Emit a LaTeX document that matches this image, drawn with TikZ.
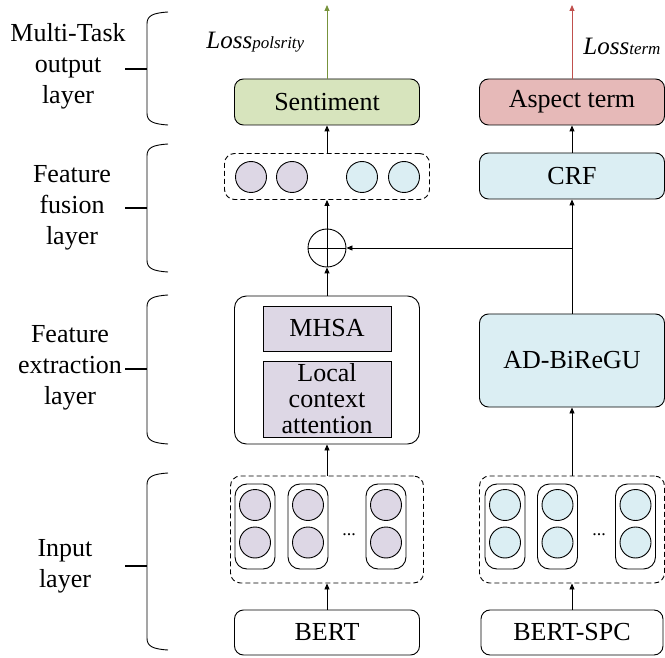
\documentclass[tikz,border=0pt]{standalone}
\usepackage{fontspec}
\setmainfont{Liberation Serif}
\usetikzlibrary{arrows.meta}
\definecolor{sgreen}{HTML}{D7E4BD}
\definecolor{sred}{HTML}{E6B9B8}
\definecolor{sblue}{HTML}{DBEEF3}
\definecolor{spurple}{HTML}{DDD7E5}
\definecolor{agreen}{HTML}{77933C}
\definecolor{ared}{HTML}{C0504D}
\newcommand\mybrace[3]{%
  \draw[line width=0.9pt] (168,#1) .. controls (152,#1+1) and (147,#1+4) .. (147,#1+12) -- (147,#2-12) .. controls (147,#2-4) and (152,#2-1) .. (168,#2);
  \draw[line width=1.1pt] (125,#3) -- (147,#3);}
\begin{document}
\begin{tikzpicture}[x=1pt,y=-1pt,
  font=\fontsize{26}{29}\selectfont,
  every path/.style={line width=0.9pt},
  box/.style={draw, rounded corners=9pt, minimum width=185pt, minimum height=46pt, inner sep=0pt, align=center},
  dbox/.style={draw, dash pattern=on 5pt off 3pt, rounded corners=10pt, inner sep=0pt},
  sq/.style={draw, fill=spurple, minimum width=128pt, inner sep=0pt, align=center},
  pill/.style={draw, rounded corners=12pt, minimum width=40pt, minimum height=85pt, inner sep=0pt},
  dot/.style={draw, circle, minimum size=31pt, inner sep=0pt},
  arr/.style={-{Triangle[length=6pt,width=5pt]}},
  lbl/.style={align=center, inner sep=0pt, font=\fontsize{26}{31}\selectfont}
]
\useasboundingbox (0,0) rectangle (665,658);

% labels and brackets
\node[lbl] (l1) at (68,66) {Multi-Task\\output\\layer};
\node[lbl] (l2) at (72,208) {Feature\\fusion\\layer};
\node[lbl] (l3) at (70,368) {Feature\\extraction\\layer};
\node[lbl] (l4) at (65,566) {Input\\layer};
\mybrace{12}{125}{69}
\mybrace{144}{272}{208}
\mybrace{295}{444}{369}
\mybrace{473}{650}{566}

% output layer
\node[box, fill=sgreen] (sent) at (327,102) {Sentiment};
\node[box, fill=sred] (asp) at (572,102) {Aspect term};
\coordinate (lp) at (327,5);
\coordinate (lt) at (572,5);
\node[anchor=base west, inner sep=0pt] (lossp) at (206,49) {\fontsize{25}{25}\selectfont\textit{Loss}{\fontsize{17}{17}\selectfont\textit{polsrity}}};
\node[anchor=base west, inner sep=0pt] (losst) at (583,55) {\fontsize{25}{25}\selectfont\textit{Loss}{\fontsize{17}{17}\selectfont\textit{term}}};

% fusion layer
\node[dbox, minimum width=205pt, minimum height=46pt] (fus) at (327,176.5) {};
\node[dot, fill=spurple] (f1) at (251,177) {};
\node[dot, fill=spurple] (f2) at (292,177) {};
\node[dot, fill=sblue] (f3) at (362,177) {};
\node[dot, fill=sblue] (f4) at (404,177) {};
\node[box, fill=sblue] (crf) at (572,176) {CRF};
\node[draw, circle, minimum size=38pt, inner sep=0pt] (op) at (327,248) {};
\draw (op.north) -- (op.south) (op.west) -- (op.east);

% extraction layer
\node[draw, rounded corners=12pt, minimum width=185pt, minimum height=148pt] (feat) at (327,370) {};
\node[sq, minimum height=45pt] (mhsa) at (327,328.5) {MHSA};
\node[sq, minimum height=76pt, font=\fontsize{26}{26}\selectfont] (lca) at (327,399) {Local\\context\\attention};
\node[box, fill=sblue, minimum height=93pt] (adb) at (572,360.5) {AD-BiReGU};

% input layer
\node[dbox, minimum width=193pt, minimum height=107pt] (in1) at (327,529.5) {};
\node[dbox, minimum width=185pt, minimum height=107pt] (in2) at (572,529.5) {};
\foreach \n/\x in {a/255,b/308,c/386}{
  \node[pill] (p\n) at (\x,526.5) {};
  \node[dot, fill=spurple] (p\n1) at (\x,505) {};
  \node[dot, fill=spurple] (p\n2) at (\x,542.5) {};
}
\foreach \n/\x in {a/505,b/557.5,c/635.5}{
  \node[pill] (q\n) at (\x,526.5) {};
  \node[dot, fill=sblue] (q\n1) at (\x,505) {};
  \node[dot, fill=sblue] (q\n2) at (\x,542.5) {};
}
\node[inner sep=0pt, font=\fontsize{18}{18}\selectfont] (d1) at (349,535) {...};
\node[inner sep=0pt, font=\fontsize{18}{18}\selectfont] (d2) at (599,535) {...};
\node[box, minimum height=45pt] (bert) at (327,632.5) {BERT};
\node[box, minimum height=45pt, minimum width=182pt] (bspc) at (572,632.5) {BERT-SPC};

% connectors
\draw[arr] (bert) -- (in1);
\draw[arr] (in1) -- (feat);
\draw[arr] (feat) -- (op);
\draw[arr] (op) -- (fus);
\draw[arr] (fus) -- (sent);
\draw[arr, agreen] (sent) -- (lp);
\draw[arr] (bspc) -- (in2);
\draw[arr] (in2) -- (adb);
\draw[arr] (adb) -- (crf);
\draw[arr] (crf) -- (asp);
\draw[arr, ared] (asp) -- (lt);
\coordinate (br) at (572,248);
\draw[arr] (br) -- (op);
\end{tikzpicture}
\end{document}
